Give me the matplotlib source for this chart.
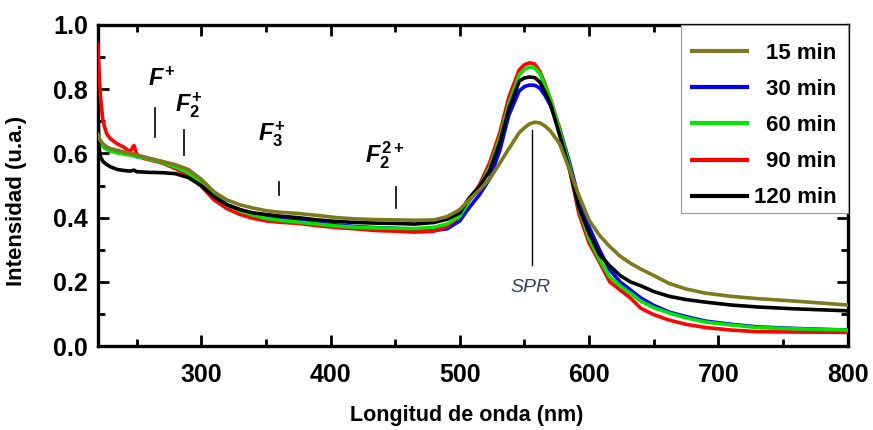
"""
UV-Vis absorption spectra at different irradiation times.
"""
import matplotlib
matplotlib.use("Agg")
from matplotlib import pyplot as plt
from matplotlib.ticker import MultipleLocator

plt.rcParams.update({
    'font.family': ['Liberation Sans', 'DejaVu Sans'],
    'mathtext.fontset': 'custom',
    'mathtext.rm': 'Liberation Sans:bold',
    'mathtext.it': 'Liberation Sans:italic:bold',
    'mathtext.bf': 'Liberation Sans:bold',
})

# wavelength grid (nm)
wavelength = [220, 221, 222, 224, 227, 230, 235, 240, 245, 248, 250, 255, 260, 270,
              280, 290, 300, 310, 320, 330, 340, 350, 360, 375, 390, 405, 420, 435,
              450, 465, 480, 490, 500, 507, 515, 523, 531, 538, 546, 550, 554, 558,
              562, 566, 570, 577, 585, 592, 600, 608, 616, 624, 632, 640, 650, 662,
              675, 690, 710, 730, 760, 800]

int_15 = [0.66, 0.65, 0.64, 0.63, 0.62, 0.615, 0.61, 0.605, 0.60, 0.598, 0.595, 0.59,
          0.585, 0.575, 0.565, 0.55, 0.52, 0.48, 0.455, 0.44, 0.43, 0.422, 0.417,
          0.413, 0.407, 0.40, 0.396, 0.394, 0.393, 0.392, 0.393, 0.403, 0.425, 0.455,
          0.485, 0.52, 0.57, 0.615, 0.665, 0.68, 0.692, 0.697, 0.695, 0.685, 0.67,
          0.632, 0.548, 0.47, 0.392, 0.345, 0.31, 0.28, 0.258, 0.24, 0.22, 0.195,
          0.178, 0.165, 0.155, 0.148, 0.14, 0.128]
int_30 = [0.65, 0.64, 0.635, 0.625, 0.615, 0.61, 0.605, 0.60, 0.597, 0.594, 0.59,
          0.588, 0.583, 0.573, 0.56, 0.54, 0.51, 0.47, 0.44, 0.425, 0.41, 0.40, 0.395,
          0.39, 0.383, 0.377, 0.372, 0.369, 0.367, 0.362, 0.36, 0.365, 0.39, 0.43,
          0.47, 0.52, 0.61, 0.72, 0.795, 0.808, 0.813, 0.812, 0.803, 0.78, 0.75, 0.68,
          0.57, 0.46, 0.371, 0.30, 0.237, 0.20, 0.175, 0.15, 0.127, 0.106, 0.092,
          0.078, 0.068, 0.06, 0.055, 0.05]
int_60 = [0.64, 0.635, 0.63, 0.62, 0.612, 0.607, 0.602, 0.598, 0.595, 0.593, 0.59,
          0.587, 0.582, 0.572, 0.558, 0.54, 0.508, 0.468, 0.44, 0.422, 0.408, 0.398,
          0.392, 0.386, 0.38, 0.374, 0.37, 0.368, 0.367, 0.366, 0.37, 0.38, 0.405,
          0.45, 0.495, 0.555, 0.65, 0.755, 0.845, 0.862, 0.869, 0.866, 0.848, 0.81,
          0.77, 0.675, 0.56, 0.43, 0.335, 0.27, 0.215, 0.188, 0.165, 0.14, 0.12,
          0.103, 0.088, 0.075, 0.066, 0.058, 0.054, 0.05]
int_90 = [0.94, 0.86, 0.78, 0.70, 0.66, 0.645, 0.63, 0.62, 0.605, 0.625, 0.598, 0.585,
          0.58, 0.57, 0.553, 0.53, 0.498, 0.455, 0.428, 0.41, 0.398, 0.39, 0.386,
          0.382, 0.375, 0.369, 0.365, 0.36, 0.358, 0.355, 0.358, 0.372, 0.405, 0.455,
          0.50, 0.57, 0.665, 0.776, 0.86, 0.876, 0.882, 0.878, 0.855, 0.815, 0.77,
          0.68, 0.55, 0.414, 0.321, 0.262, 0.20, 0.175, 0.15, 0.118, 0.098, 0.081,
          0.068, 0.058, 0.05, 0.045, 0.044, 0.043]
int_120 = [0.735, 0.62, 0.59, 0.575, 0.565, 0.558, 0.55, 0.547, 0.545, 0.548, 0.543,
           0.542, 0.541, 0.54, 0.537, 0.525, 0.50, 0.465, 0.44, 0.425, 0.415, 0.41,
           0.405, 0.40, 0.393, 0.388, 0.385, 0.383, 0.382, 0.38, 0.385, 0.395, 0.415,
           0.46, 0.496, 0.545, 0.635, 0.74, 0.825, 0.835, 0.838, 0.836, 0.822, 0.79,
           0.755, 0.66, 0.548, 0.433, 0.352, 0.285, 0.25, 0.22, 0.20, 0.188, 0.17,
           0.155, 0.145, 0.137, 0.128, 0.122, 0.116, 0.11]

labels = ['15 min', '30 min', '60 min', '90 min', '120 min']
colors = ['#7d7a1e', '#0000ff', '#00e400', '#ff0000', '#000000']
zorders = [6, 2, 4, 3, 5]

# band labels: (text, wavelength, marker y-range)
bands = [r'$F^{+}$', r'$F_{2}^{+}$', r'$F_{3}^{+}$', r'$F_{2}^{2+}$']
band_wl = [264, 287, 360, 451]
band_lo = [0.65, 0.595, 0.47, 0.43]
band_hi = [0.74, 0.672, 0.51, 0.495]
band_txt_y = [0.83, 0.75, 0.66, 0.595]
band_txt_dx = [5, 3, -6, -9]
spr_wl = 556
spr_lo, spr_hi = 0.253, 0.673

fig, ax = plt.subplots(figsize=(8.73, 4.3), dpi=100)
fig.subplots_adjust(left=0.112, right=0.971, bottom=0.195, top=0.942)

series = [int_15, int_30, int_60, int_90, int_120]
for vals, lab, col, zo in zip(series, labels, colors, zorders):
    ax.plot(wavelength, vals, color=col, lw=2.6, label=lab, zorder=zo)

for txt, wl, lo, hi, ty, dx in zip(bands, band_wl, band_lo, band_hi, band_txt_y, band_txt_dx):
    ax.plot([wl, wl], [lo, hi], color='black', lw=1.2, zorder=7)
    ax.text(wl + dx, ty, txt, fontsize=17, ha='center', va='center', zorder=8)

ax.plot([spr_wl, spr_wl], [spr_lo, spr_hi], color='black', lw=1.0, zorder=7)
ax.text(spr_wl - 1, 0.182, 'SPR', fontsize=14, style='italic', color='#3a3d5c',
        ha='center', va='center', zorder=8)

ax.set_xlim(220, 800)
ax.set_ylim(0, 1.0)
ax.xaxis.set_major_locator(MultipleLocator(100))
ax.xaxis.set_minor_locator(MultipleLocator(50))
ax.yaxis.set_major_locator(MultipleLocator(0.2))
ax.yaxis.set_minor_locator(MultipleLocator(0.1))
ax.yaxis.set_major_formatter(plt.FormatStrFormatter('%.1f'))
ax.tick_params(which='both', direction='in', top=True, right=True, width=2)
ax.tick_params(which='major', length=8)
ax.tick_params(which='minor', length=5)
ax.tick_params(axis='x', which='major', pad=12)
ax.tick_params(axis='y', which='major', pad=7)
for lab in ax.get_xticklabels() + ax.get_yticklabels():
    lab.set_fontsize(18)
    lab.set_fontweight('bold')
for sp in ax.spines.values():
    sp.set_linewidth(2.4)

ax.set_xlabel('Longitud de onda (nm)', fontsize=15.5, fontweight='bold')
ax.set_ylabel('Intensidad (u.a.)', fontsize=16, fontweight='bold')
ax.xaxis.set_label_coords(0.492, -0.184)
ax.yaxis.set_label_coords(-0.095, 0.452)

leg = ax.legend(loc='upper right', bbox_to_anchor=(1, 1), borderaxespad=0,
                fancybox=False, framealpha=1, edgecolor='#9a9a9a',
                prop={'weight': 'bold', 'size': 16}, handlelength=2.5,
                handletextpad=0.3, labelspacing=0.68, borderpad=0.5)
leg.get_frame().set_linewidth(0.8)
leg.set_zorder(10)
for line in leg.get_lines():
    line.set_linewidth(3)

# right-align the legend labels and nudge the rows down a little
fig.canvas.draw()
renderer = fig.canvas.get_renderer()
widths = [t.get_window_extent(renderer).width for t in leg.get_texts()]
for t, w in zip(leg.get_texts(), widths):
    t.set_position((max(widths) - w, -7))
for line in leg.get_lines():
    line.set_ydata([y - 5 for y in line.get_ydata()])

fig.savefig('out.png', dpi=100)
